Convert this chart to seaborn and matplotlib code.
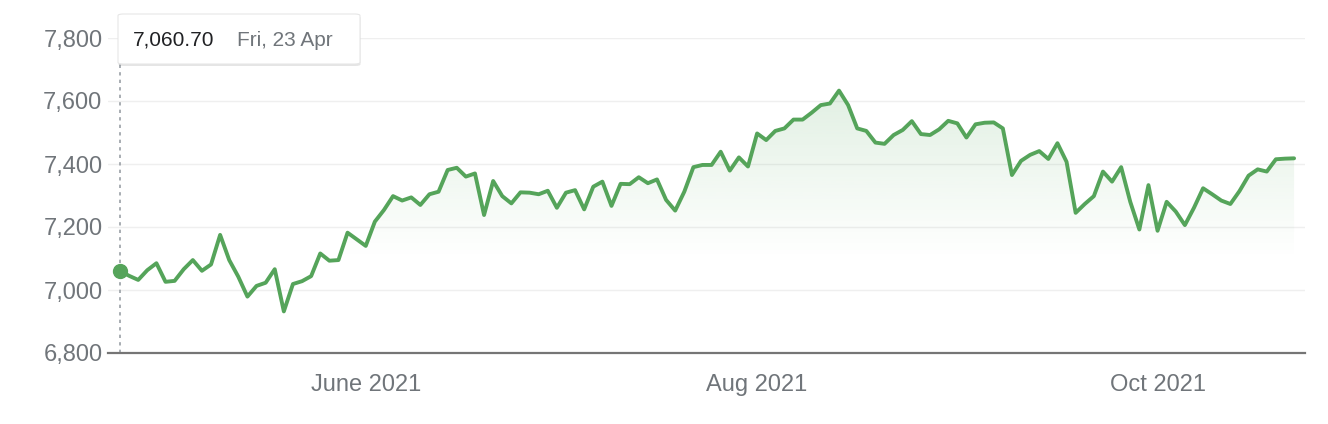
import numpy as np
import pandas as pd
import matplotlib
matplotlib.use("Agg")
import matplotlib.pyplot as plt
from matplotlib.patches import FancyBboxPatch
from matplotlib.ticker import FuncFormatter
import seaborn as sns

# trading days, 23 Apr - 22 Oct 2021 (Queen's Birthday 14 Jun closed)
dates = pd.bdate_range("2021-04-23", "2021-10-22")
dates = dates[dates != pd.Timestamp("2021-06-14")]

closes = [
    7060.70, 7045, 7032, 7063, 7085, 7026, 7029, 7066, 7095, 7061,
    7081, 7175, 7095, 7042, 6979, 7013, 7023, 7066, 6932, 7019,
    7028, 7044, 7116, 7093, 7095, 7182, 7161, 7140, 7217, 7254,
    7298, 7284, 7294, 7270, 7304, 7312, 7381, 7388, 7360, 7370,
    7238, 7346, 7298, 7275, 7310, 7309, 7304, 7315, 7261, 7309,
    7317, 7256, 7328, 7344, 7267, 7337, 7336, 7358, 7339, 7351,
    7286, 7252, 7312, 7390, 7397, 7397, 7439, 7379, 7421, 7392,
    7497, 7476, 7505, 7513, 7541, 7541, 7563, 7587, 7592, 7633,
    7587, 7513, 7505, 7468, 7464, 7492, 7508, 7536, 7495, 7492,
    7510, 7537, 7529, 7484, 7526, 7531, 7532, 7513, 7365, 7410,
    7429, 7441, 7416, 7466, 7407, 7245, 7273, 7298, 7376, 7344,
    7390, 7280, 7192, 7333, 7188, 7280, 7249, 7206, 7261, 7323,
    7304, 7284, 7273, 7314, 7363, 7383, 7376, 7415, 7417, 7418,
]

month_starts = ["2021-06-01", "2021-08-01", "2021-10-01"]
month_labels = ["June 2021", "Aug 2021", "Oct 2021"]
y_ticks = [6800, 7000, 7200, 7400, 7600, 7800]

df = pd.DataFrame({"idx": np.arange(len(closes)), "close": closes, "date": dates[:len(closes)]})

sns.set_style("white")
plt.rcParams["font.family"] = ["Liberation Sans", "DejaVu Sans"]

green = "#55a45a"
grey = "#70757a"

fig = plt.figure(figsize=(13.28, 4.24), dpi=100)
ax = fig.add_axes([108 / 1328, 1 - 353 / 424, (1305 - 108) / 1328, (353 - 38) / 424])

# gradient fill under the line
poly = ax.fill_between(df["idx"], df["close"], 6800, color="none", lw=0)
grad = np.linspace(0.18, 0.0, 256).reshape(-1, 1)
rgba = np.zeros((256, 1, 4))
rgba[..., :3] = matplotlib.colors.to_rgb("#5aac62")
rgba[..., 3] = np.clip(grad, 0, None)
img = ax.imshow(rgba, aspect="auto", extent=[0, len(closes) - 1, 7100, max(closes)],
                origin="upper", zorder=1)
img.set_clip_path(poly.get_paths()[0], transform=ax.transData)

sns.lineplot(data=df, x="idx", y="close", ax=ax, color=green, linewidth=2.8, zorder=3)
ax.plot(df["idx"].iloc[0], df["close"].iloc[0], "o", color=green, markersize=10, zorder=4)
ax.axvline(df["idx"].iloc[0], ymin=0, ymax=(7745 - 6800) / 1000, color="#9aa0a6",
           linestyle=(0, (2, 2.5)), linewidth=1.2, zorder=2)

ax.set_xlim(-1.32, len(closes) - 1 + 1.2)
ax.set_ylim(6800, 7800)
ax.set_yticks(y_ticks)
ax.yaxis.set_major_formatter(FuncFormatter(lambda v, p: f"{int(v):,}"))
tick_pos = [int(np.searchsorted(df["date"].values, np.datetime64(m))) for m in month_starts]
ax.set_xticks(tick_pos)
ax.set_xticklabels(month_labels)
ax.set_xlabel("")
ax.set_ylabel("")

ax.grid(axis="y", color="#efefef", linewidth=1.0)
ax.set_axisbelow(True)
for s in ["top", "right", "left"]:
    ax.spines[s].set_visible(False)
ax.spines["bottom"].set_color("#757575")
ax.spines["bottom"].set_linewidth(1.6)
ax.spines["bottom"].set_zorder(5)
ax.tick_params(axis="y", length=0, pad=4, labelsize=17, labelcolor=grey)
ax.tick_params(axis="x", length=7, width=1, color="#9aa0a6", pad=8, labelsize=17, labelcolor=grey)

# tooltip box
shadow = FancyBboxPatch((118.5 / 1328, 1 - 66 / 424), 242 / 1328, 50 / 424,
                        boxstyle="round,pad=0,rounding_size=0.004", transform=fig.transFigure,
                        facecolor="#000000", alpha=0.10, edgecolor="none", zorder=9)
box = FancyBboxPatch((118 / 1328, 1 - 64 / 424), 242 / 1328, 50 / 424,
                     boxstyle="round,pad=0,rounding_size=0.004", transform=fig.transFigure,
                     facecolor="white", edgecolor="#e6e6e6", linewidth=0.8, zorder=10)
fig.patches.extend([shadow, box])
first_date = df["date"].iloc[0]
fig.text(133 / 1328, 1 - 40 / 424, f"{closes[0]:,.2f}", fontsize=15, color="#202124",
         va="center", ha="left", zorder=11)
fig.text(237 / 1328, 1 - 40 / 424, f"{first_date:%a}, {first_date.day} {first_date:%b}",
         fontsize=15, color=grey, va="center", ha="left", zorder=11)

fig.savefig("out.png", dpi=100)
